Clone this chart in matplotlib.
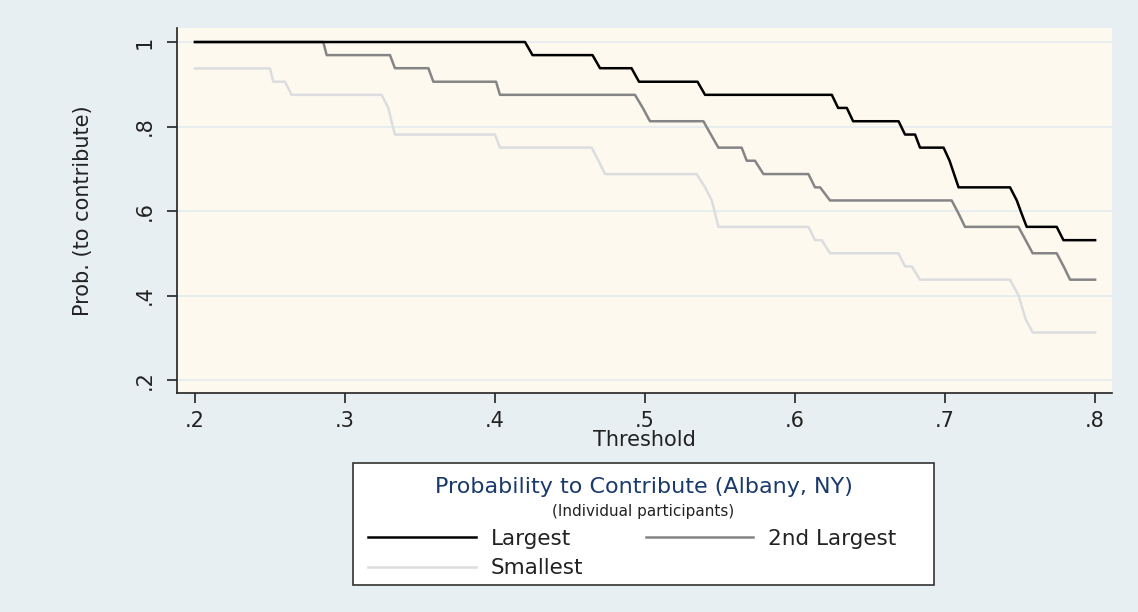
import matplotlib.pyplot as plt
from matplotlib.patches import Rectangle

# step curves (threshold, probability)
x_largest = [0.200, 0.420, 0.425, 0.465, 0.470, 0.491, 0.496, 0.535, 0.540, 0.6245, 0.6287, 0.6345, 0.6387,
             0.669, 0.6733, 0.680, 0.6833, 0.699, 0.703, 0.706, 0.709, 0.7433, 0.7478, 0.751, 0.7544,
             0.7744, 0.7789, 0.800]
y_largest = [1.0, 1.0, 0.969, 0.969, 0.938, 0.938, 0.906, 0.906, 0.875, 0.875, 0.844, 0.844, 0.8125,
             0.8125, 0.781, 0.781, 0.75, 0.75, 0.719, 0.6875, 0.656, 0.656, 0.625, 0.594, 0.5625,
             0.5625, 0.531, 0.531]

x_second = [0.200, 0.2855, 0.2878, 0.330, 0.3333, 0.3556, 0.3589, 0.4007, 0.4033, 0.4933, 0.4985, 0.5033,
            0.5389, 0.5439, 0.5489, 0.5644, 0.5678, 0.5733, 0.5789, 0.6089, 0.6133, 0.6167, 0.6233,
            0.7044, 0.709, 0.7133, 0.7489, 0.7537, 0.7584, 0.7744, 0.779, 0.7833, 0.800]
y_second = [1.0, 1.0, 0.969, 0.969, 0.938, 0.938, 0.906, 0.906, 0.875, 0.875, 0.844, 0.8125,
            0.8125, 0.781, 0.75, 0.75, 0.719, 0.719, 0.6875, 0.6875, 0.656, 0.656, 0.625,
            0.625, 0.594, 0.5625, 0.5625, 0.531, 0.5, 0.5, 0.469, 0.4375, 0.4375]

x_smallest = [0.200, 0.250, 0.2522, 0.260, 0.2644, 0.3244, 0.3289, 0.331, 0.3333, 0.400, 0.4033, 0.4644,
              0.469, 0.4733, 0.5344, 0.540, 0.5445, 0.5489, 0.6089, 0.6133, 0.6178, 0.6233, 0.6689,
              0.6733, 0.6778, 0.6833, 0.7433, 0.749, 0.7537, 0.7584, 0.800]
y_smallest = [0.9375, 0.9375, 0.906, 0.906, 0.875, 0.875, 0.844, 0.8125, 0.781, 0.781, 0.75, 0.75,
              0.719, 0.6875, 0.6875, 0.656, 0.625, 0.5625, 0.5625, 0.531, 0.531, 0.5, 0.5,
              0.469, 0.469, 0.4375, 0.4375, 0.40, 0.344, 0.3125, 0.3125]

x_ticks = [0.2, 0.3, 0.4, 0.5, 0.6, 0.7, 0.8]
x_ticklabels = ['.2', '.3', '.4', '.5', '.6', '.7', '.8']
y_ticks = [0.2, 0.4, 0.6, 0.8, 1.0]
y_ticklabels = ['.2', '.4', '.6', '.8', '1']
series_names = ['Largest', '2nd Largest', 'Smallest']

bg = '#e8eff2'
plt.rcParams['font.family'] = 'DejaVu Sans'

fig = plt.figure(figsize=(11.38, 6.12), dpi=100, facecolor=bg)
ax = fig.add_axes([0.1555, 0.3578, 0.8217, 0.5964])
ax.set_facecolor('#fdf9ef')

for y in y_ticks:
    ax.axhline(y, color='#e4ecf0', lw=1.2, zorder=1)

l1, = ax.plot(x_largest, y_largest, color='black', lw=1.8, zorder=4)
l2, = ax.plot(x_second, y_second, color='#858585', lw=1.8, zorder=3)
l3, = ax.plot(x_smallest, y_smallest, color='#dcdddf', lw=1.8, zorder=2)

ax.set_xlim(0.188, 0.8113)
ax.set_ylim(0.1692, 1.0331)
ax.set_xticks(x_ticks)
ax.set_xticklabels(x_ticklabels)
ax.set_yticks(y_ticks)
ax.set_yticklabels(y_ticklabels, rotation=90, va='center')
ax.tick_params(axis='both', direction='out', length=7, width=1.2, color='#222222',
               labelsize=15, labelcolor='#222222', pad=6)
ax.tick_params(axis='y', pad=9)

for side in ['top', 'right']:
    ax.spines[side].set_visible(False)
for side in ['left', 'bottom']:
    ax.spines[side].set_color('#222222')
    ax.spines[side].set_linewidth(1.2)

ax.set_xlabel('Threshold', fontsize=15, color='#222222', labelpad=-1)
ax.set_ylabel('Prob. (to contribute)', fontsize=15, color='#222222', labelpad=30)

# legend box with title and subtitle
fig.patches.append(Rectangle((0.3102, 0.0441), 0.5105, 0.1993, transform=fig.transFigure,
                             facecolor='white', edgecolor='#333333', lw=1.2, zorder=0))
fig.text(0.566, 0.2042, 'Probability to Contribute (Albany, NY)', fontsize=16,
         color='#1a3a6b', ha='center', va='center')
fig.text(0.565, 0.1634, '(Individual participants)', fontsize=11,
         color='#222222', ha='center', va='center')
fig.legend([l1, l3, l2], [series_names[0], series_names[2], series_names[1]], ncol=2,
           loc='upper left', bbox_to_anchor=(368 / 1138, 1 - 529 / 612), frameon=False,
           fontsize=15.5, handlelength=5.0, handletextpad=0.7, columnspacing=2.9,
           labelspacing=0.42, borderpad=0, borderaxespad=0, labelcolor='#222222')

fig.savefig('out.png', dpi=100, facecolor=bg)
